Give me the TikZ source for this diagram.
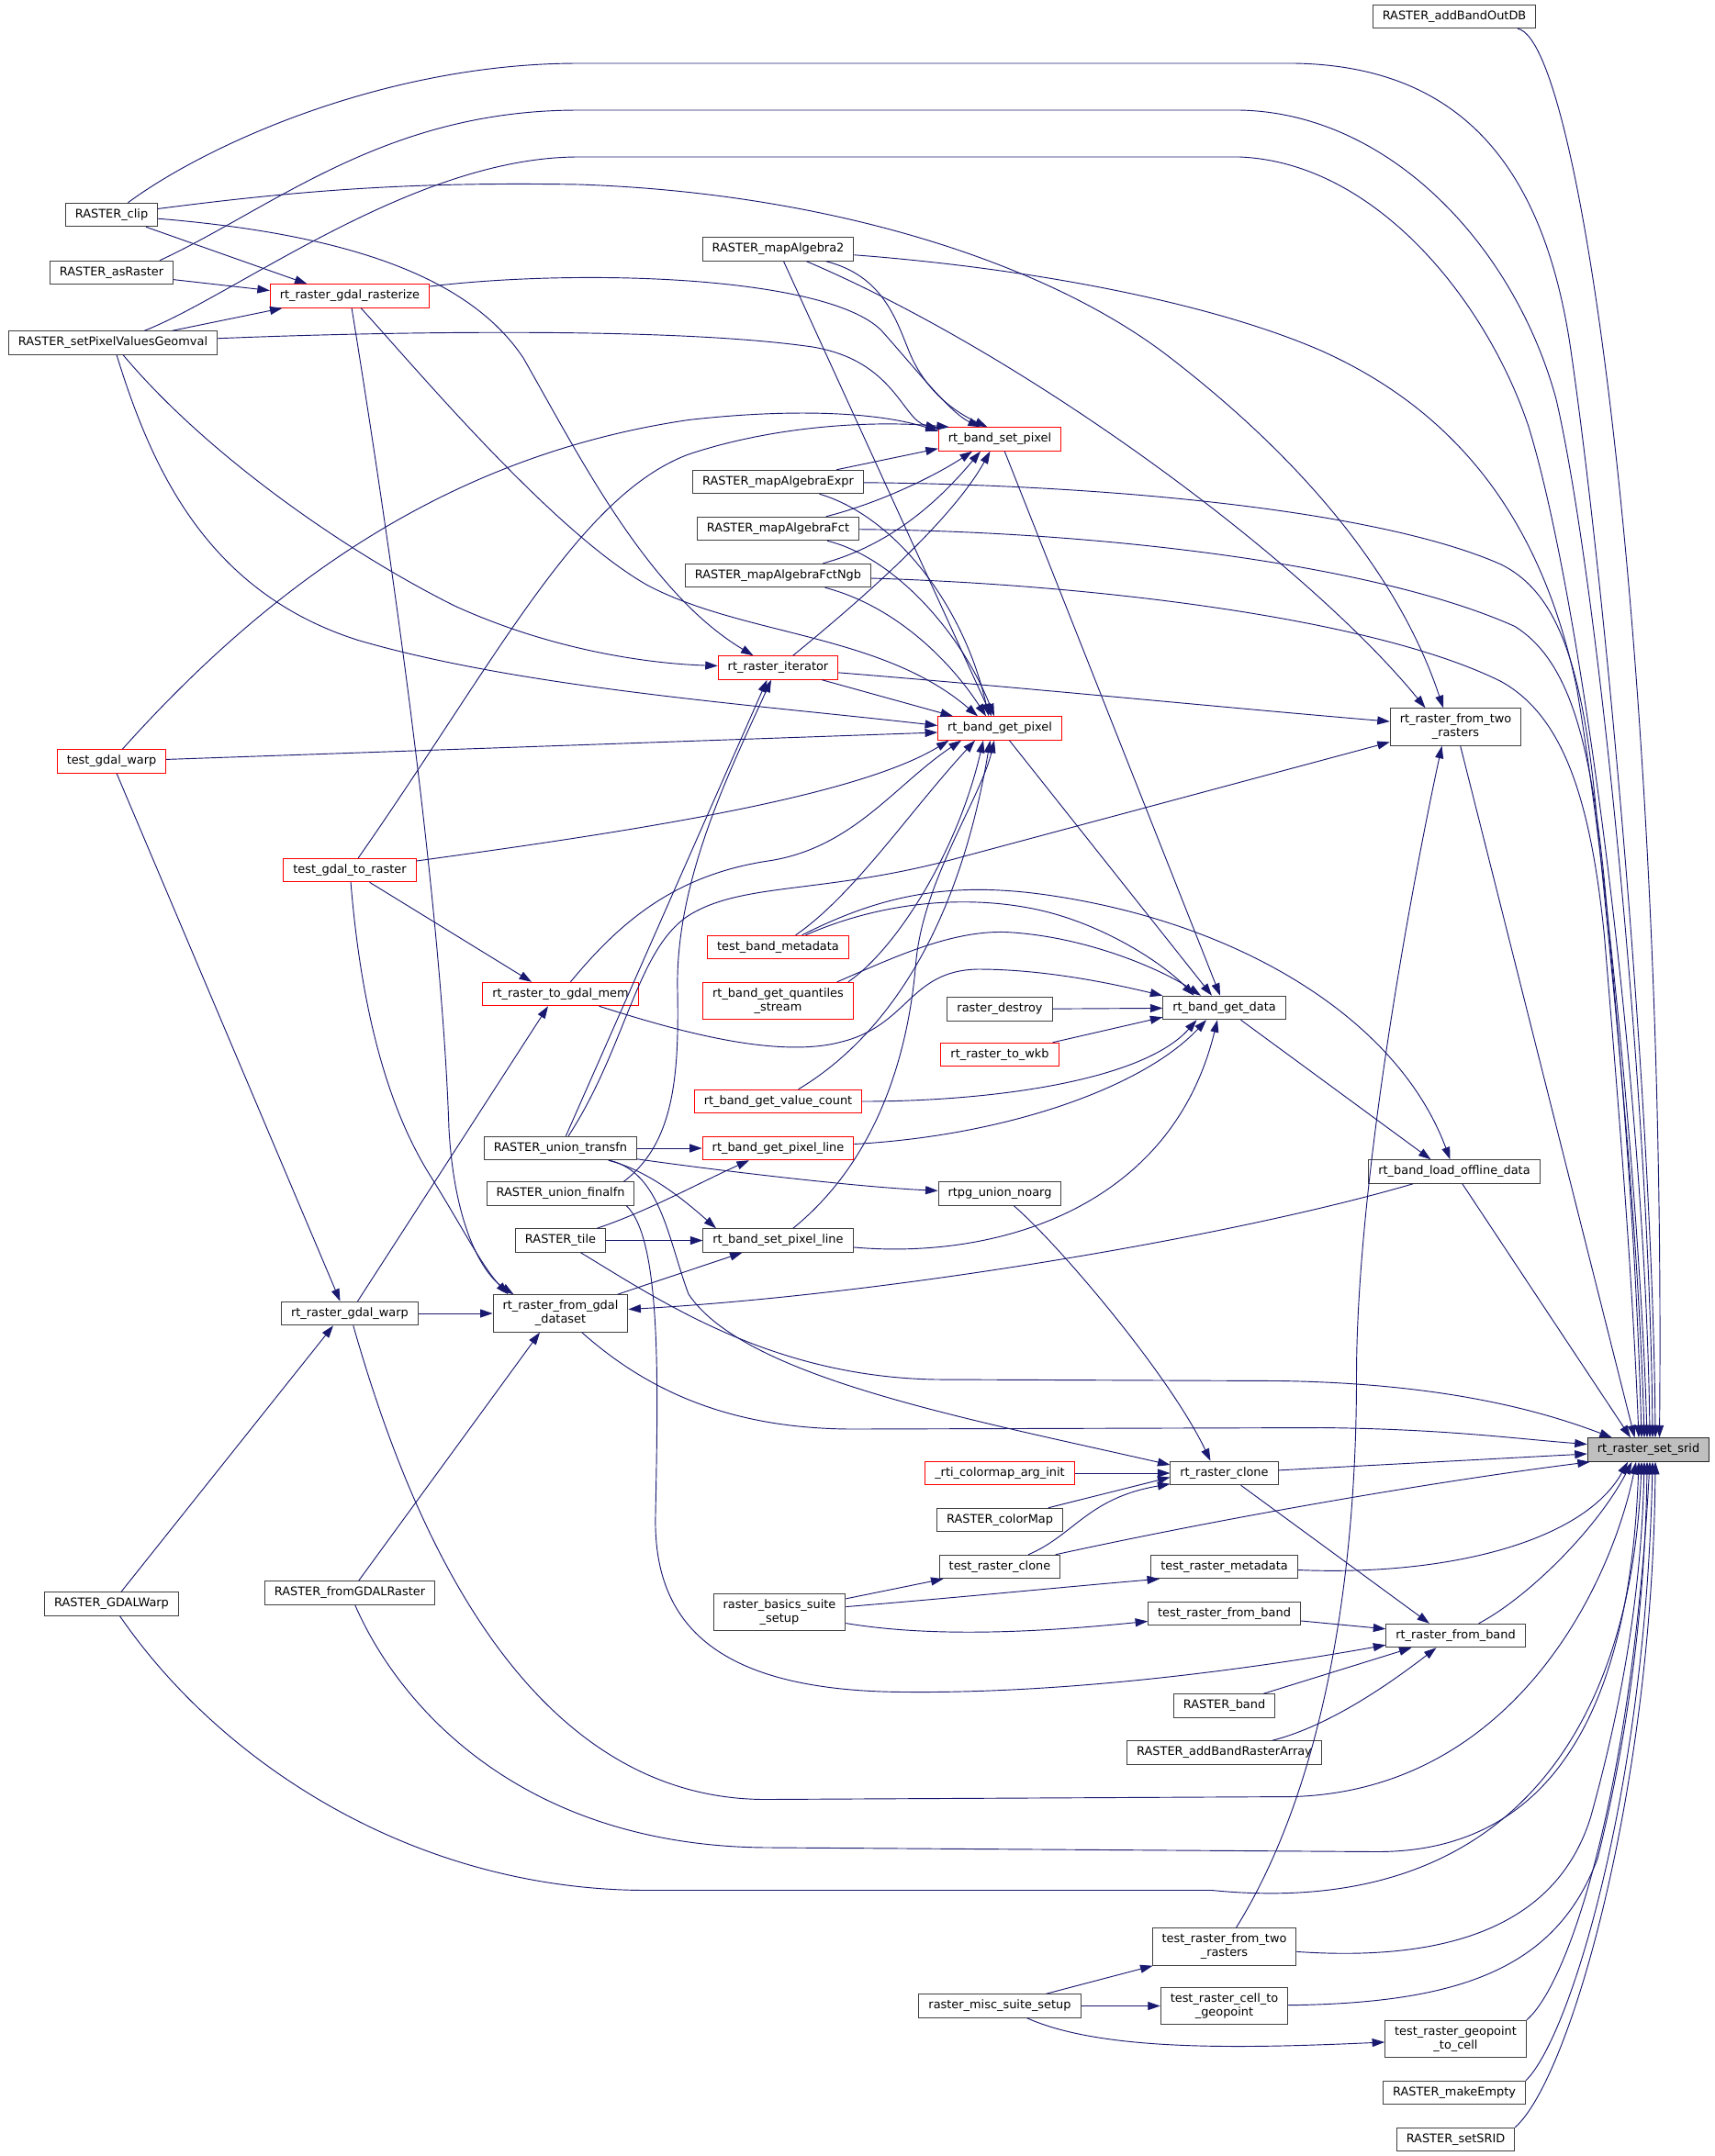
\documentclass[tikz,border=0pt]{standalone}
\usepackage{fontspec}
\setmainfont{DejaVu Sans}
\usetikzlibrary{arrows.meta}
\definecolor{edgeblue}{HTML}{191970}
\definecolor{boxgray}{HTML}{404040}
\definecolor{rootgray}{HTML}{BFBFBF}
\definecolor{truncred}{HTML}{FF0000}

\begin{document}
\begin{tikzpicture}[x=1pt,y=-1pt,
  fn/.style={draw=boxgray, fill=white, line width=0.65pt, inner xsep=7pt, inner ysep=2pt,
    minimum height=17pt, align=center, font=\fontsize{8.6}{10}\selectfont},
  fntrunc/.style={fn, draw=truncred},
  fnroot/.style={fn, fill=rootgray, draw=black!85},
  twoline/.style={minimum height=27pt},
  calls/.style={draw=edgeblue, line width=0.62pt, -{Triangle[length=9pt,width=6pt]}}]
\useasboundingbox (0,0) rectangle (1245.3,1566);

\node[fn] (addOutDB) at (1056,12) {RASTER\_addBandOutDB};
\node[fn] (clip) at (81,156) {RASTER\_clip};
\node[fn] (asRaster) at (81,198) {RASTER\_asRaster};
\node[fntrunc] (rasterize) at (254,215) {rt\_raster\_gdal\_rasterize};
\node[fn] (setPVG) at (82,249) {RASTER\_setPixelValuesGeomval};
\node[fn] (mapAlg2) at (565,181) {RASTER\_mapAlgebra2};
\node[fntrunc] (setPixel) at (726,319) {rt\_band\_set\_pixel};
\node[fn] (mapExpr) at (565,350) {RASTER\_mapAlgebraExpr};
\node[fn] (mapFct) at (565,384) {RASTER\_mapAlgebraFct};
\node[fn] (mapNgb) at (565,418) {RASTER\_mapAlgebraFctNgb};
\node[fntrunc] (iterator) at (565,485) {rt\_raster\_iterator};
\node[fntrunc] (getPixel) at (726,529) {rt\_band\_get\_pixel};
\node[fn, twoline] (fromTwo) at (1057,528) {rt\_raster\_from\_two\\\_rasters};
\node[fntrunc] (testWarp) at (81,553) {test\_gdal\_warp};
\node[fntrunc] (testToRaster) at (254,632) {test\_gdal\_to\_raster};
\node[fntrunc] (testBandMeta) at (565,688) {test\_band\_metadata};
\node[fntrunc, twoline] (quantiles) at (565,727) {rt\_band\_get\_quantiles\\\_stream};
\node[fntrunc] (toGdalMem) at (407,722) {rt\_raster\_to\_gdal\_mem};
\node[fn] (rasterDestroy) at (726,733) {raster\_destroy};
\node[fn] (getData) at (889,732) {rt\_band\_get\_data};
\node[fntrunc] (toWkb) at (726,766) {rt\_raster\_to\_wkb};
\node[fntrunc] (valueCount) at (565,800) {rt\_band\_get\_value\_count};
\node[fn] (unionTrans) at (407,834) {RASTER\_union\_transfn};
\node[fntrunc] (getPixelLine) at (565,834) {rt\_band\_get\_pixel\_line};
\node[fn] (loadOffline) at (1056,851) {rt\_band\_load\_offline\_data};
\node[fn] (unionFinal) at (407,867) {RASTER\_union\_finalfn};
\node[fn] (unionNoarg) at (726,867) {rtpg\_union\_noarg};
\node[fn] (tile) at (407,901) {RASTER\_tile};
\node[fn] (setPixelLine) at (565,901) {rt\_band\_set\_pixel\_line};
\node[fn] (gdalWarp) at (254,954) {rt\_raster\_gdal\_warp};
\node[fn, twoline] (fromGdal) at (407,954) {rt\_raster\_from\_gdal\\\_dataset};
\node[fnroot] (srid) at (1197,1053) {rt\_raster\_set\_srid};
\node[fntrunc] (colormapInit) at (726,1070) {\_rti\_colormap\_arg\_init};
\node[fn] (clone) at (889,1070) {rt\_raster\_clone};
\node[fn] (colorMap) at (726,1104) {RASTER\_colorMap};
\node[fn] (testClone) at (726,1138) {test\_raster\_clone};
\node[fn] (testMeta) at (889,1138) {test\_raster\_metadata};
\node[fn] (GDALWarp) at (81,1165) {RASTER\_GDALWarp};
\node[fn] (fromGDALRaster) at (254,1157) {RASTER\_fromGDALRaster};
\node[fn, twoline] (basicsSetup) at (566,1171) {raster\_basics\_suite\\\_setup};
\node[fn] (testFromBand) at (889,1172) {test\_raster\_from\_band};
\node[fn] (fromBand) at (1057,1188) {rt\_raster\_from\_band};
\node[fn] (RASTERband) at (889,1239) {RASTER\_band};
\node[fn] (addBandRasterArray) at (889,1273) {RASTER\_addBandRasterArray};
\node[fn, twoline] (testFromTwo) at (889,1414) {test\_raster\_from\_two\\\_rasters};
\node[fn] (miscSetup) at (726,1457) {raster\_misc\_suite\_setup};
\node[fn, twoline] (cellToGeo) at (889,1457) {test\_raster\_cell\_to\\\_geopoint};
\node[fn, twoline] (geoToCell) at (1057,1481) {test\_raster\_geopoint\\\_to\_cell};
\node[fn] (makeEmpty) at (1056,1520) {RASTER\_makeEmpty};
\node[fn] (setSRID) at (1057,1554) {RASTER\_setSRID};

% rt_raster_set_srid, from above
\draw[calls] (addOutDB) .. controls (1150,30) and (1210,500) .. ([xshift=8]srid.north);
\draw[calls] (clip) .. controls (150,105) and (280,46) .. (420,46) -- (940,46) .. controls (1060,48) and (1120,120) .. (1140,250) .. controls (1165,420) and (1200,800) .. ([xshift=5]srid.north);
\draw[calls] ([xshift=35]asRaster.north) .. controls (200,150) and (280,80) .. (420,80) -- (900,80) .. controls (1010,82) and (1100,180) .. (1130,290) .. controls (1160,420) and (1198,800) .. ([xshift=3]srid.north);
\draw[calls] (setPVG) .. controls (170,215) and (300,114) .. (420,114) -- (900,114) .. controls (1000,118) and (1080,220) .. (1110,310) .. controls (1150,440) and (1195,800) .. ([xshift=1]srid.north);
\draw[calls] (mapAlg2) .. controls (750,195) and (880,220) .. (960,255) .. controls (1060,300) and (1120,380) .. (1145,500) .. controls (1170,650) and (1192,900) .. ([xshift=-1]srid.north);
\draw[calls] (mapExpr) .. controls (800,352) and (1000,370) .. (1090,410) .. controls (1130,430) and (1150,480) .. (1160,600) .. controls (1175,750) and (1190,900) .. ([xshift=-3]srid.north);
\draw[calls] (mapFct) .. controls (800,386) and (1000,410) .. (1100,455) .. controls (1140,480) and (1155,540) .. (1165,640) .. controls (1178,780) and (1188,900) .. ([xshift=-5]srid.north);
\draw[calls] (mapNgb) .. controls (800,425) and (1000,450) .. (1090,495) .. controls (1135,520) and (1155,580) .. (1165,680) .. controls (1175,800) and (1185,920) .. ([xshift=-7]srid.north);
\draw[calls] (fromTwo) -- ([xshift=-10]srid.north);
\draw[calls] (loadOffline) -- ([xshift=-13]srid.north);
\draw[calls] (tile) .. controls (480,945) and (560,1000) .. (680,1002) -- (930,1003) .. controls (1050,1005) and (1120,1025) .. ([xshift=18]srid.north west);
% from the left and from below
\draw[calls] (fromGdal) .. controls (470,1010) and (530,1038) .. (620,1038) -- (960,1037) .. controls (1050,1038) and (1100,1045) .. ([yshift=4]srid.west);
\draw[calls] (clone) -- ([yshift=-3]srid.west);
\draw[calls] (testClone) .. controls (900,1100) and (1050,1075) .. ([xshift=2]srid.south west);
\draw[calls] (testMeta) .. controls (1050,1145) and (1150,1120) .. ([xshift=-15]srid.south);
\draw[calls] (fromBand) .. controls (1110,1160) and (1160,1110) .. ([xshift=-12]srid.south);
\draw[calls] (gdalWarp) .. controls (290,1080) and (370,1307) .. (556,1307) -- (939,1305) .. controls (1100,1300) and (1170,1150) .. ([xshift=-9]srid.south);
\draw[calls] (fromGDALRaster) .. controls (290,1240) and (380,1342) .. (560,1342) -- (1000,1345) .. controls (1150,1345) and (1185,1200) .. ([xshift=-7]srid.south);
\draw[calls] (GDALWarp) .. controls (160,1280) and (300,1373) .. (470,1373) -- (880,1373) .. controls (1100,1395) and (1185,1250) .. ([xshift=-5]srid.south);
\draw[calls] (testFromTwo) .. controls (1050,1425) and (1130,1400) .. (1155,1320) .. controls (1180,1230) and (1192,1150) .. ([xshift=-3]srid.south);
\draw[calls] (cellToGeo) .. controls (1060,1455) and (1130,1430) .. (1160,1350) .. controls (1185,1250) and (1195,1150) .. ([xshift=-1]srid.south);
\draw[calls] (geoToCell.north east) .. controls (1140,1440) and (1185,1300) .. ([xshift=1]srid.south);
\draw[calls] (makeEmpty.north east) .. controls (1140,1480) and (1195,1300) .. ([xshift=3]srid.south);
\draw[calls] (setSRID.north east) .. controls (1140,1510) and (1200,1300) .. ([xshift=5]srid.south);

% rt_raster_from_two_rasters
\draw[calls] (clip) .. controls (220,138) and (300,132) .. (420,134) .. controls (600,140) and (760,190) .. (850,260) .. controls (960,345) and (1020,430) .. ([xshift=-9]fromTwo.north);
\draw[calls] (mapAlg2) .. controls (750,260) and (950,410) .. ([xshift=-22]fromTwo.north);
\draw[calls] (iterator) .. controls (750,500) and (900,515) .. (fromTwo);
\draw[calls] (unionTrans) .. controls (455,760) and (462,690) .. (500,665) .. controls (540,640) and (600,650) .. (700,622) -- ([yshift=-11]fromTwo.west);
\draw[calls] (testFromTwo) .. controls (960,1300) and (985,1150) .. (985,1000) .. controls (985,850) and (1030,620) .. ([xshift=-10]fromTwo.south);

% rt_band_set_pixel
\draw[calls] (rasterize) .. controls (420,195) and (600,200) .. (640,240) .. controls (665,268) and (690,300) .. ([xshift=-14]setPixel.north);
\draw[calls] (setPVG) .. controls (250,242) and (480,236) .. (590,252) .. controls (650,262) and (655,305) .. ([yshift=-1]setPixel.north west);
\draw[calls] (testWarp) .. controls (200,420) and (330,330) .. (500,305) .. controls (580,296) and (640,300) .. ([yshift=-3]setPixel.north west);
\draw[calls] (testToRaster) .. controls (360,480) and (420,360) .. (500,330) .. controls (560,310) and (630,305) .. ([xshift=8]setPixel.north west);
\draw[calls] (mapAlg2) .. controls (640,200) and (650,230) .. (660,255) .. controls (672,285) and (695,300) .. ([xshift=-9]setPixel.north);
\draw[calls] (mapExpr) -- ([yshift=2]setPixel.south west);
\draw[calls] (mapFct) .. controls (640,365) and (680,345) .. ([xshift=-20]setPixel.south);
\draw[calls] (mapNgb) .. controls (650,395) and (685,360) .. ([xshift=-14]setPixel.south);
\draw[calls] (iterator) .. controls (620,440) and (690,380) .. ([xshift=-7]setPixel.south);

% rt_band_get_pixel
\draw[calls] (mapAlg2) -- ([xshift=-6]getPixel.north);
\draw[calls] (mapExpr) .. controls (650,375) and (700,440) .. ([xshift=-8]getPixel.north);
\draw[calls] (mapFct) .. controls (650,405) and (698,460) .. ([xshift=-4]getPixel.north);
\draw[calls] (mapNgb) .. controls (650,440) and (690,480) .. ([xshift=-10]getPixel.north);
\draw[calls] (iterator) -- ([xshift=-34]getPixel.north);
\draw[calls] (rasterize) .. controls (300,265) and (400,385) .. (470,425) .. controls (540,462) and (640,460) .. ([xshift=-16]getPixel.north);
\draw[calls] (setPVG) .. controls (110,340) and (150,430) .. (260,465) .. controls (380,500) and (550,512) .. ([yshift=2]getPixel.west);
\draw[calls] (testWarp) -- ([yshift=-3]getPixel.west);
\draw[calls] (testToRaster) .. controls (450,605) and (620,580) .. ([xshift=-37]getPixel.south);
\draw[calls] (toGdalMem) .. controls (450,670) and (490,635) .. (560,625) .. controls (620,615) and (650,570) .. ([xshift=-28]getPixel.south);
\draw[calls] (testBandMeta) .. controls (620,650) and (660,590) .. ([xshift=-18]getPixel.south);
\draw[calls] ([xshift=-4]quantiles.north east) .. controls (650,690) and (695,620) .. ([xshift=-12]getPixel.south);
\draw[calls] (valueCount) .. controls (640,755) and (695,680) .. ([xshift=-7]getPixel.south);
\draw[calls] (setPixelLine) .. controls (640,840) and (660,760) .. (665,700) .. controls (670,640) and (712,580) .. ([xshift=-4]getPixel.south);

% rt_band_get_data
\draw[calls] (setPixel) -- ([xshift=-3]getData.north);
\draw[calls] (getPixel) -- ([xshift=-9]getData.north);
\draw[calls] (testBandMeta) .. controls (640,655) and (700,650) .. (750,660) .. controls (800,670) and (845,700) .. ([xshift=-22]getData.north);
\draw[calls] ([xshift=-12]quantiles.north east) .. controls (650,695) and (690,676) .. (730,677) .. controls (790,680) and (845,705) .. ([xshift=-17]getData.north);
\draw[calls] (toGdalMem) .. controls (480,745) and (560,770) .. (610,757) .. controls (660,745) and (660,705) .. (710,704) .. controls (760,704) and (810,715) .. (getData.north west);
\draw[calls] (rasterDestroy) -- (getData);
\draw[calls] (toWkb) -- ([yshift=2]getData.south west);
\draw[calls] (valueCount) .. controls (720,800) and (830,785) .. ([xshift=-20]getData.south);
\draw[calls] (getPixelLine) .. controls (730,825) and (830,790) .. ([xshift=-13]getData.south);
\draw[calls] (setPixelLine) .. controls (720,915) and (850,880) .. ([xshift=-5]getData.south);

% rt_band_load_offline_data
\draw[calls] (getData) -- ([xshift=-17]loadOffline.north);
\draw[calls] (testBandMeta) .. controls (640,650) and (690,640) .. (760,650) .. controls (900,670) and (1015,740) .. ([xshift=-3]loadOffline.north);

% rt_raster_from_gdal_dataset
\draw[calls] (loadOffline) .. controls (900,897) and (650,940) .. ([yshift=3]fromGdal.east);
\draw[calls] (gdalWarp) -- (fromGdal);
\draw[calls] (fromGDALRaster) -- ([xshift=-15]fromGdal.south);
\draw[calls] (rasterize) .. controls (300,500) and (322,700) .. (326,820) .. controls (330,890) and (350,925) .. ([xshift=-34]fromGdal.north);
\draw[calls] (testToRaster) .. controls (262,730) and (280,800) .. (310,850) .. controls (335,890) and (350,920) .. ([xshift=-38]fromGdal.north);
\draw[calls] (fromGdal) -- ([xshift=-26]setPixelLine.south);

% rt_raster_to_gdal_mem, rt_raster_gdal_warp, rt_raster_gdal_rasterize
\draw[calls] (testToRaster) -- ([xshift=-21]toGdalMem.north);
\draw[calls] (gdalWarp) -- ([xshift=-9]toGdalMem.south);
\draw[calls] (testWarp) -- ([xshift=-7]gdalWarp.north);
\draw[calls] (GDALWarp) -- ([xshift=-12]gdalWarp.south);
\draw[calls] (clip) -- ([xshift=-31]rasterize.north);
\draw[calls] (asRaster) -- ([yshift=4]rasterize.west);
\draw[calls] (setPVG) -- ([xshift=-49]rasterize.south);

% rt_raster_iterator
\draw[calls] (clip) .. controls (250,170) and (340,200) .. (380,260) .. controls (420,330) and (470,430) .. ([xshift=-18]iterator.north);
\draw[calls] (setPVG) .. controls (150,330) and (250,400) .. (330,440) .. controls (400,472) and (470,482) .. (iterator);
\draw[calls] (unionTrans) -- ([xshift=-8]iterator.south);
\draw[calls] ([xshift=-8]unionFinal.north east) .. controls (490,830) and (493,780) .. (492,720) .. controls (490,640) and (530,560) .. ([xshift=-5]iterator.south);

% pixel lines, union
\draw[calls] (unionTrans) -- (getPixelLine);
\draw[calls] (tile) .. controls (470,880) and (510,858) .. ([xshift=-21]getPixelLine.south);
\draw[calls] (tile) -- (setPixelLine);
\draw[calls] (unionTrans) .. controls (470,850) and (495,870) .. ([xshift=-45]setPixelLine.north);
\draw[calls] (unionTrans) .. controls (520,850) and (620,862) .. (unionNoarg);

% rt_raster_clone
\draw[calls] (unionNoarg) .. controls (770,905) and (850,1000) .. ([xshift=-10]clone.north);
\draw[calls] (unionTrans) .. controls (480,852) and (485,900) .. (500,940) .. controls (540,1000) and (700,1030) .. ([yshift=6]clone.west);
\draw[calls] (colormapInit) -- (clone);
\draw[calls] (colorMap) -- ([yshift=-3]clone.west);
\draw[calls] (testClone) .. controls (780,1115) and (790,1088) .. ([yshift=1]clone.south west);

% rt_raster_from_band
\draw[calls] (clone) -- ([xshift=-19]fromBand.north);
\draw[calls] (testFromBand) -- (fromBand);
\draw[calls] ([xshift=-6]unionFinal.south east) .. controls (480,900) and (478,1000) .. (476,1100) .. controls (474,1180) and (520,1229) .. (660,1229) .. controls (800,1230) and (950,1205) .. ([yshift=2]fromBand.south west);
\draw[calls] (RASTERband) -- ([xshift=-32]fromBand.south);
\draw[calls] (addBandRasterArray) .. controls (960,1255) and (1000,1230) .. ([xshift=-14]fromBand.south);

% test suites
\draw[calls] (basicsSetup) -- ([xshift=-41]testClone.south);
\draw[calls] (basicsSetup) .. controls (700,1160) and (780,1152) .. ([xshift=-47]testMeta.south);
\draw[calls] (basicsSetup) .. controls (680,1190) and (760,1185) .. (testFromBand);
\draw[calls] (miscSetup) -- ([xshift=-52]testFromTwo.south);
\draw[calls] (miscSetup) -- (cellToGeo);
\draw[calls] (miscSetup) .. controls (800,1490) and (900,1488) .. (geoToCell);
\end{tikzpicture}
\end{document}
